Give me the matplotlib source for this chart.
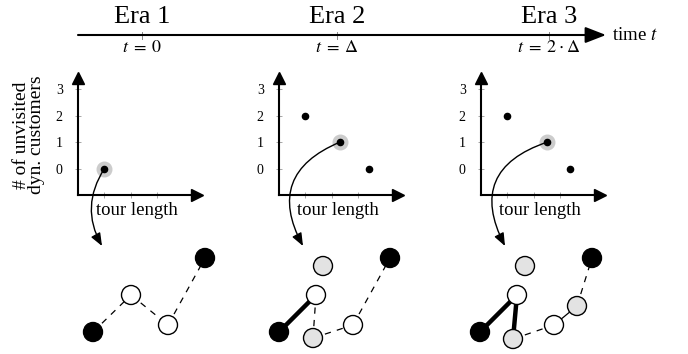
import matplotlib
matplotlib.use('Agg')
import matplotlib.pyplot as plt
from matplotlib.patches import Circle

plt.rcParams['font.family'] = 'serif'
plt.rcParams['font.serif'] = ['Liberation Serif', 'DejaVu Serif']
plt.rcParams['mathtext.fontset'] = 'stix'

W, H = 688, 354

# timeline
era_names = ['Era 1', 'Era 2', 'Era 3']
era_ticks = [142, 337, 549]
era_times = [r'$t\;=\;0$', r'$t\;=\;\Delta$', r'$t\;=\;2\cdot\Delta$']

# scatter: tour length vs. # unvisited dyn. customers
tour_len = [[1.0], [1.0, 2.3, 3.4], [1.0, 2.5, 3.37]]
unvisited = [[0], [2, 1, 0], [2, 1, 0]]
chosen = [0, 1, 1]
y_ticks = [0, 1, 2, 3]
x_ticks = [1, 2, 3]

# graphs below (pixel positions), fill: k black, w white, g grey
g_x = [[93, 131, 168, 205],
       [279, 316, 313, 353, 390, 323],
       [480, 517, 513, 554, 577, 592, 525]]
g_y = [[332, 295, 325, 258],
       [332, 295, 338, 325, 258, 266],
       [332, 295, 339, 325, 306, 258, 266]]
g_fill = [['k', 'w', 'w', 'k'],
          ['k', 'w', 'g', 'w', 'k', 'g'],
          ['k', 'w', 'g', 'w', 'g', 'k', 'g']]
# edges: (a, b, style) style: d dashed, t thick, s thin solid
g_edges = [[(0, 1, 'd'), (1, 2, 'd'), (2, 3, 'd')],
           [(0, 1, 't'), (1, 2, 'd'), (2, 3, 'd'), (3, 4, 'd')],
           [(0, 1, 't'), (1, 2, 't'), (2, 3, 'd'), (3, 4, 's'), (4, 5, 'd')]]
arrow_end = [(102, 246), (303, 246), (505, 246)]
arrow_rad = [0.3, 0.55, 0.58]

fig = plt.figure(figsize=(W / 100, H / 100), dpi=100)

# small scatter axes
axes_left = [78, 279, 481]
unit = 26.4
ax_bottom = 195
insets = []
for k in range(3):
    ax = fig.add_axes([axes_left[k] / W, (H - ax_bottom) / H,
                       4.5 * unit / W, 4.45 * unit / H])
    ax.set_xlim(0, 4.5)
    ax.set_ylim(-1, 3.45)
    ax.patch.set_visible(False)
    for s in ['top', 'right']:
        ax.spines[s].set_visible(False)
    ax.spines['left'].set_linewidth(1.5)
    ax.spines['bottom'].set_linewidth(1.5)
    ax.plot(1, -1, '>k', ms=9, transform=ax.get_yaxis_transform(), clip_on=False)
    ax.plot(0, 1, '^k', ms=9, transform=ax.get_xaxis_transform(), clip_on=False)
    ax.set_xticks(x_ticks)
    ax.set_xticklabels([])
    ax.set_yticks(y_ticks)
    ax.set_yticklabels([str(v) for v in y_ticks], fontsize=10)
    ax.tick_params(direction='inout', length=4, width=0.6, color='#999999', pad=9)
    c = chosen[k]
    ax.scatter([tour_len[k][c]], [unvisited[k][c]], s=110, color='#cccccc',
               zorder=2, clip_on=False)
    ax.scatter(tour_len[k], unvisited[k], s=20, color='k', zorder=3, clip_on=False)
    ax.text(0.68, -1.28, 'tour length', fontsize=13.5, ha='left', va='top',
            transform=ax.transData)
    insets.append(ax)

# overlay in pixel coordinates
ax0 = fig.add_axes([0, 0, 1, 1])
ax0.set_xlim(0, W)
ax0.set_ylim(H, 0)
ax0.axis('off')
ax0.patch.set_visible(False)

ax0.annotate('', xy=(606, 35), xytext=(78, 35),
             arrowprops=dict(arrowstyle='-|>,head_length=0.9,head_width=0.35',
                             lw=1.5, color='k', mutation_scale=14,
                             shrinkA=0, shrinkB=0))
ax0.text(612, 35, r'time $t$', fontsize=13.5, ha='left', va='center')
for name, tx, tt in zip(era_names, era_ticks, era_times):
    ax0.plot([tx, tx], [32, 39], color='#888888', lw=0.7)
    ax0.text(tx, 17, name, fontsize=19, ha='center', va='center')
    ax0.text(tx, 48, tt, fontsize=13, ha='center', va='center')

ax0.text(29, 135, '# of unvisited\ndyn. customers', rotation=90, fontsize=14,
         ha='center', va='center', linespacing=0.85)

# curved arrows from chosen point to graph
for k in range(3):
    c = chosen[k]
    ax0.annotate('', xy=arrow_end[k], xycoords='data',
                 xytext=(tour_len[k][c], unvisited[k][c]),
                 textcoords=insets[k].transData,
                 arrowprops=dict(arrowstyle='-|>,head_length=0.55,head_width=0.22',
                                 lw=1.0, color='k', mutation_scale=14,
                                 shrinkA=0, shrinkB=0,
                                 connectionstyle='arc3,rad=%.2f' % arrow_rad[k]))

# graphs
fills = {'k': 'black', 'w': 'white', 'g': '#e3e3e3'}
for k in range(3):
    xs, ys = g_x[k], g_y[k]
    for a, b, st in g_edges[k]:
        if st == 'd':
            ax0.plot([xs[a], xs[b]], [ys[a], ys[b]], color='k', lw=0.9,
                     ls=(0, (5, 5)), zorder=1)
        elif st == 't':
            ax0.plot([xs[a], xs[b]], [ys[a], ys[b]], color='k', lw=3.2, zorder=1)
        else:
            ax0.plot([xs[a], xs[b]], [ys[a], ys[b]], color='k', lw=0.9, zorder=1)
    for x, y, f in zip(xs, ys, g_fill[k]):
        ax0.add_patch(Circle((x, y), 9.5, facecolor=fills[f], edgecolor='k',
                             lw=1.0, zorder=3))

fig.savefig('out.png', dpi=100)
